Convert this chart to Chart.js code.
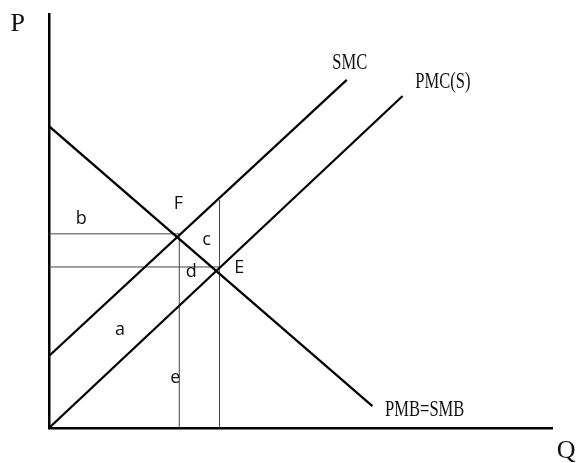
<!DOCTYPE html>
<html>
<head>
<meta charset="utf-8">
<script src="https://cdn.jsdelivr.net/npm/chart.js@4/dist/chart.umd.min.js"></script>
<style>
  html, body { margin: 0; padding: 0; background: #fff; }
  #wrap { width: 579px; height: 463px; }
</style>
</head>
<body>
<div id="wrap"><canvas id="chart" width="579" height="463"></canvas></div>
<script>
// Curves (Q, P)
const pmbQ = [0, 6.43];
const pmbP = [7.29, 0.53];
const smcQ = [0, 5.92];
const smcP = [1.74, 8.41];
const pmcQ = [0, 7.03];
const pmcP = [0, 8.02];

// Points F and E and the guide lines through them
const pointF = [2.59, 4.69];
const pointE = [3.39, 3.89];
const guideTopE = 5.51;

// Text labels: [text, Q, P, kind]
const labels = [
  ['SMC', 5.98, 8.82, 'curve'],
  ['PMC(S)', 7.83, 8.36, 'curve'],
  ['PMB=SMB', 7.47, 0.43, 'curve'],
  ['F', 2.57, 5.41, 'pt'],
  ['b', 0.64, 5.05, 'pt'],
  ['c', 3.13, 4.54, 'pt'],
  ['d', 2.83, 3.77, 'pt'],
  ['E', 3.78, 3.86, 'pt'],
  ['a', 1.41, 2.37, 'pt'],
  ['e', 2.51, 1.21, 'pt'],
  ['P', -0.62, 9.76, 'axis'],
  ['Q', 10.28, -0.55, 'axis']
];

const toPts = (qs, ps) => qs.map((q, i) => ({ x: q, y: ps[i] }));

const thick = { borderColor: '#000', borderWidth: 2.2, showLine: true, pointRadius: 0, fill: false };
const thin = { borderColor: '#444', borderWidth: 1, showLine: true, pointRadius: 0, fill: false };

const labelPlugin = {
  id: 'labels',
  afterDraw(chart) {
    const ctx = chart.ctx;
    const xs = chart.scales.x, ys = chart.scales.y;
    ctx.save();
    ctx.fillStyle = '#111';
    ctx.textAlign = 'center';
    ctx.textBaseline = 'middle';
    labels.forEach(([text, q, p, kind]) => {
      const px = xs.getPixelForValue(q);
      const py = ys.getPixelForValue(p);
      ctx.save();
      ctx.translate(px, py);
      if (kind === 'curve') {
        ctx.scale(0.72, 1);
        ctx.font = '23px "Liberation Serif"';
      } else if (kind === 'axis') {
        ctx.font = '26px "Liberation Serif"';
      } else {
        ctx.font = '18px "Open Sans"';
      }
      ctx.fillText(text, 0, 0);
      ctx.restore();
    });
    ctx.restore();
  }
};

new Chart(document.getElementById('chart'), {
  type: 'scatter',
  data: {
    datasets: [
      { ...thick, data: toPts(pmbQ, pmbP) },
      { ...thick, data: toPts(smcQ, smcP) },
      { ...thick, data: toPts(pmcQ, pmcP) },
      { ...thin, data: [{ x: 0, y: pointF[1] }, { x: pointF[0], y: pointF[1] }] },
      { ...thin, data: [{ x: 0, y: pointE[1] }, { x: pointE[0], y: pointE[1] }] },
      { ...thin, data: [{ x: pointF[0], y: 0 }, { x: pointF[0], y: pointF[1] }] },
      { ...thin, data: [{ x: pointE[0], y: 0 }, { x: pointE[0], y: guideTopE }] }
    ]
  },
  options: {
    responsive: false,
    animation: false,
    layout: { padding: { left: 41, top: 14, right: 27, bottom: 27 } },
    plugins: { legend: { display: false }, tooltip: { enabled: false } },
    scales: {
      x: {
        type: 'linear', min: 0, max: 10,
        grid: { display: false },
        ticks: { display: false },
        border: { display: true, color: '#000', width: 2.5 }
      },
      y: {
        type: 'linear', min: 0, max: 10,
        grid: { display: false },
        ticks: { display: false },
        border: { display: true, color: '#000', width: 2.5 }
      }
    }
  },
  plugins: [labelPlugin]
});
</script>
</body>
</html>
